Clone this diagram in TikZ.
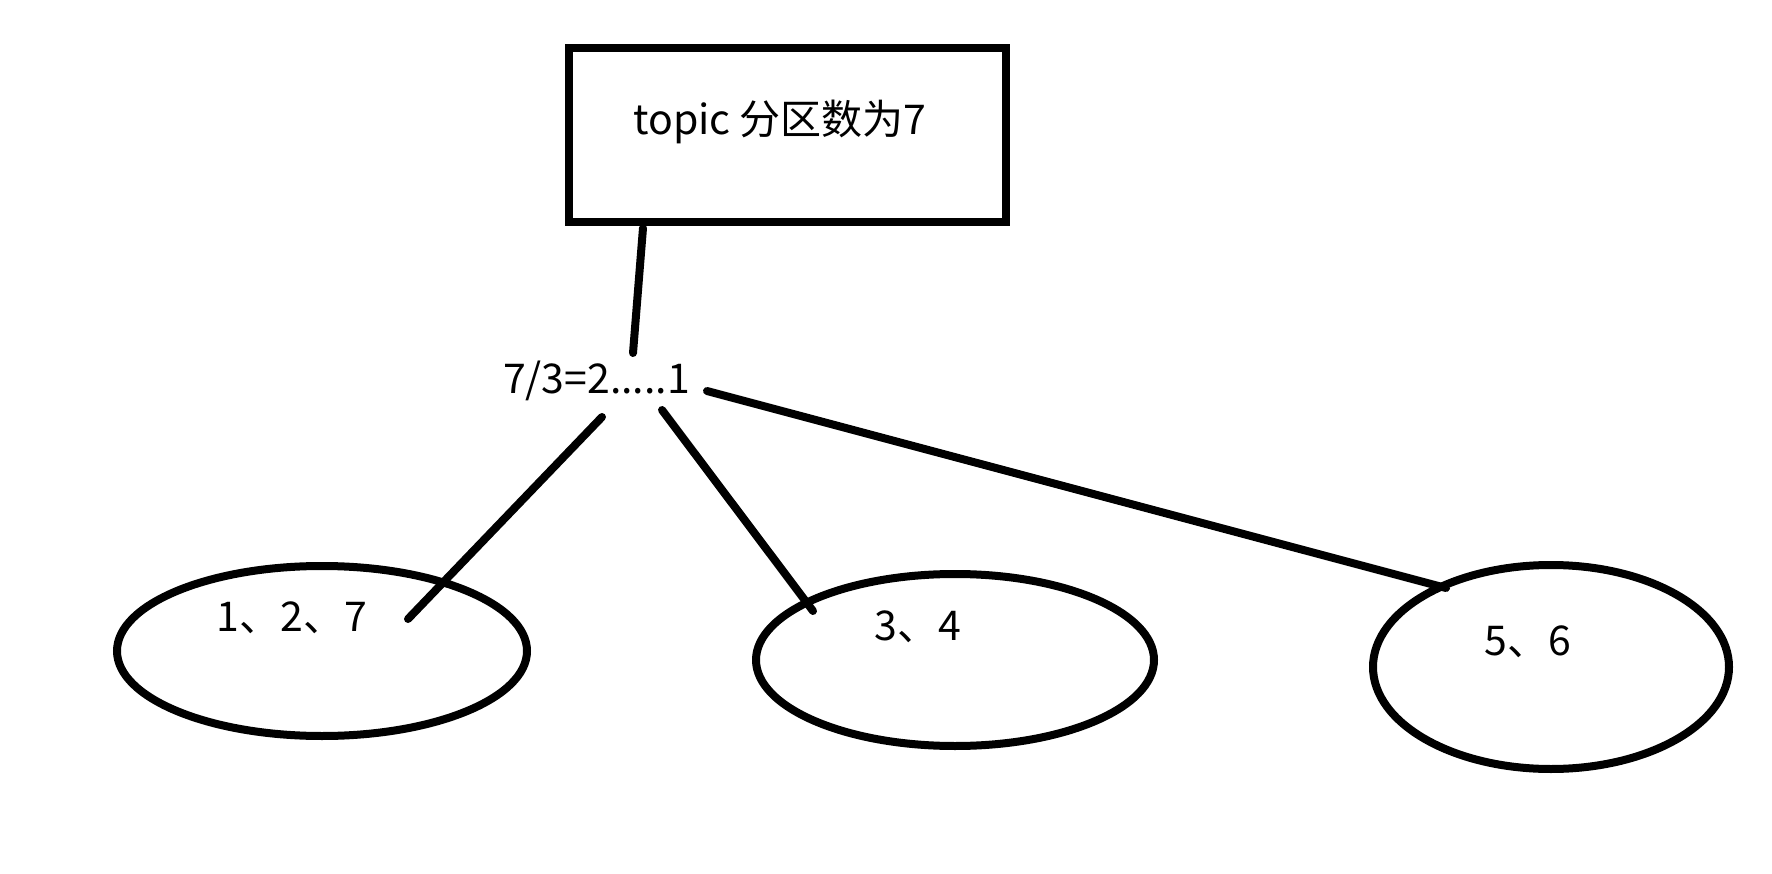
\documentclass[tikz,border=0pt]{standalone}
\usepackage{fontspec}
\setmainfont{Noto Sans CJK SC}
\usetikzlibrary{shapes.geometric}
\begin{document}
\begin{tikzpicture}[x=1pt,y=-1pt,
  stroke/.style={line width=8pt,line cap=round,black},
  lbl/.style={font=\fontsize{41pt}{49pt}\selectfont,inner sep=0pt,anchor=base}]
\useasboundingbox[fill=white] (0,0) rectangle (1772,874);
% top box
\node[draw,line width=8pt,minimum width=437pt,minimum height=174pt,inner sep=0pt] (box) at (787.5,135) {};
\node[lbl] (topic) at (780,135) {topic 分区数为7};
% division text
\node[lbl] (div) at (596.5,393) {7/3=2.....1};
% partitions
\node[draw,line width=8pt,ellipse,minimum width=410pt,minimum height=170pt,inner sep=0pt] (e1) at (322,651) {};
\node[draw,line width=8pt,ellipse,minimum width=398pt,minimum height=172pt,inner sep=0pt] (e2) at (955,660) {};
\node[draw,line width=8pt,ellipse,minimum width=356pt,minimum height=204pt,inner sep=0pt] (e3) at (1551,667) {};
\node[lbl] (t1) at (292,631) {1、2、7};
\node[lbl] (t2) at (918,640) {3、4};
\node[lbl] (t3) at (1528,655) {5、6};
% connector end points
\coordinate (b0) at (643,228);
\coordinate (d0) at (633,353);
\coordinate (d1) at (602,417);
\coordinate (d2) at (662,410);
\coordinate (d3) at (707,391);
\coordinate (p1) at (408,619);
\coordinate (p2) at (813,611);
\coordinate (p3) at (1446,588);
\draw[stroke] (b0) -- (d0);
\draw[stroke] (d1) -- (p1);
\draw[stroke] (d2) -- (p2);
\draw[stroke] (d3) -- (p3);
\end{tikzpicture}
\end{document}
